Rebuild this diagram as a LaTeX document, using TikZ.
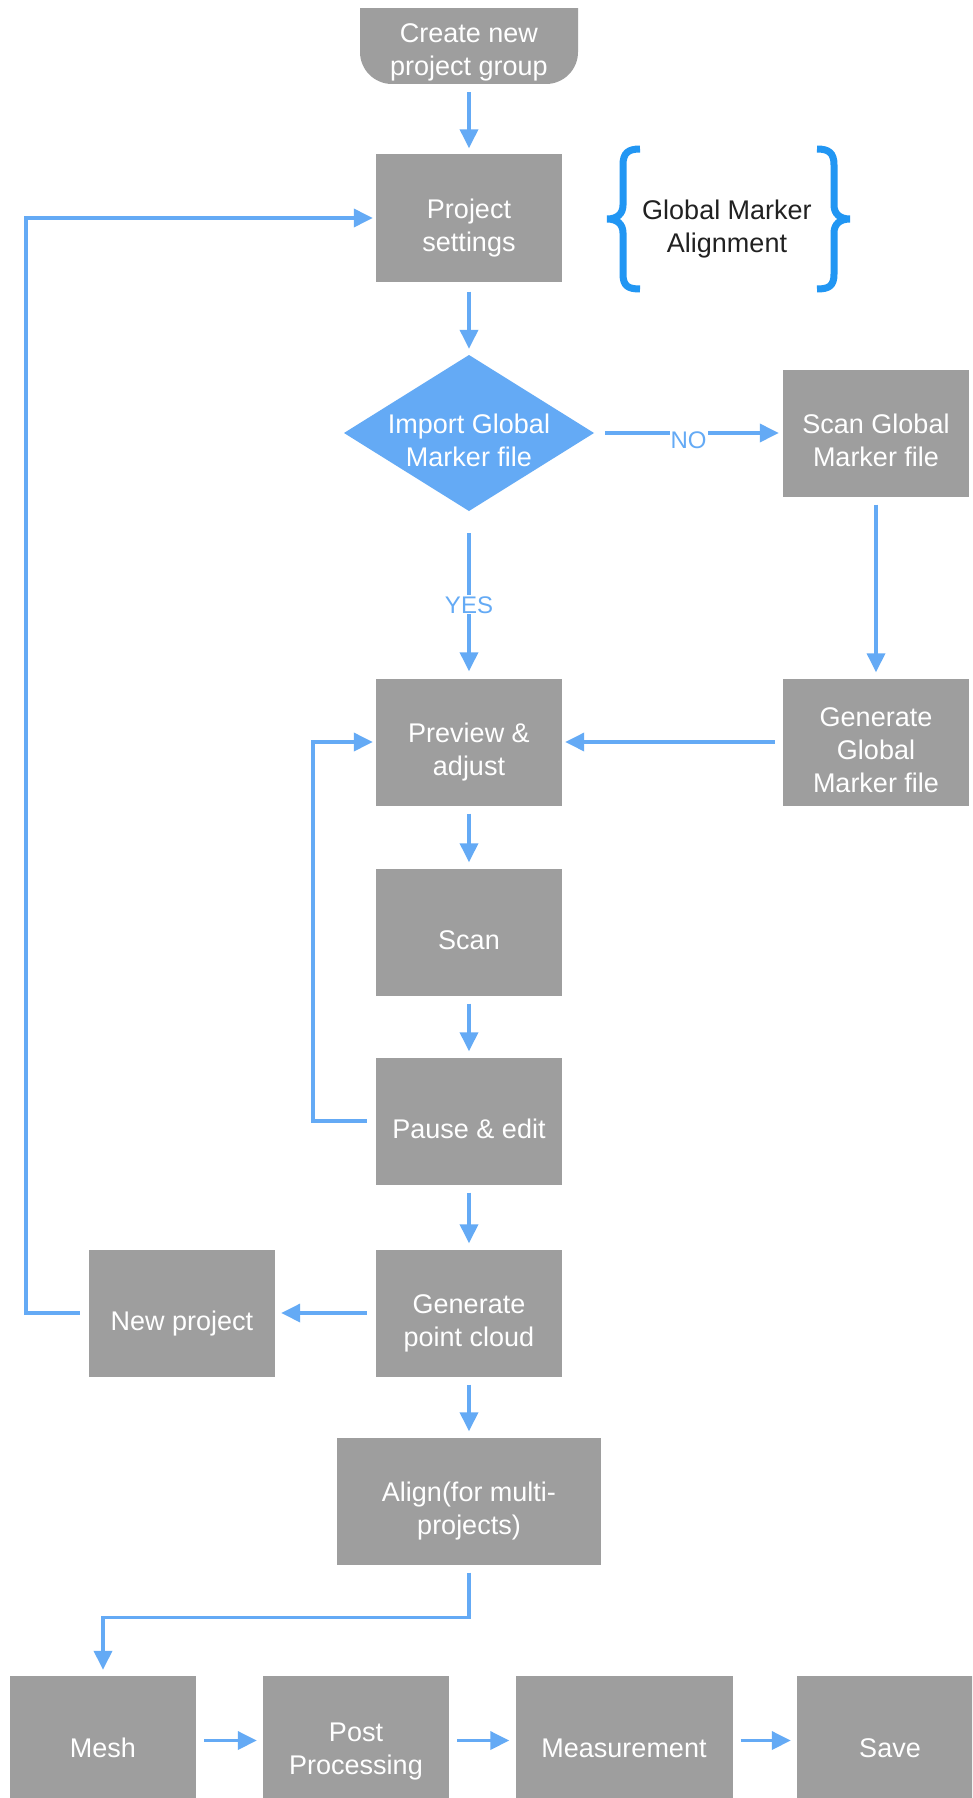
\documentclass[tikz,border=0pt]{standalone}
\usepackage{fontspec}
\setmainfont{Liberation Sans}
\usetikzlibrary{arrows.meta,calc}
\definecolor{boxgray}{HTML}{9E9E9E}
\definecolor{arr}{HTML}{64AAF5}
\definecolor{brc}{HTML}{2196F3}
\definecolor{darktext}{HTML}{212121}
\newcommand{\ts}{\rule{0pt}{40pt}}
\newcommand{\bs}{\rule[-6pt]{0pt}{6pt}}
\begin{document}
\begin{tikzpicture}[x=1pt,y=-1pt,
  boxtext/.style={text=white, align=center, font=\fontsize{27}{33}\selectfont, inner sep=0pt},
  box/.style={boxtext, fill=boxgray, minimum width=186pt, minimum height=127pt},
  conn/.style={draw=arr, line width=3.5pt, -{Triangle[length=19pt,width=18pt]}, shorten <=8pt, shorten >=6pt},
  lbl/.style={text=arr, fill=white, font=\fontsize{24}{28}\selectfont, inner sep=1pt},
  bracestyle/.style={draw=brc, line width=7pt}]
\useasboundingbox (0,0) rectangle (972,1798);
\fill[white] (0,0) rectangle (972,1798);
\clip (0,0) rectangle (972,1798);

% terminal
\begin{scope}
  \clip (340,9) rectangle (600,100);
  \fill[boxgray, rounded corners=32pt] (360,-30) rectangle (578,84);
\end{scope}
\node[boxtext, minimum width=218pt, minimum height=64pt] (start) at (469,52) {Create new\\project group};

\node[box] (settings) at (469,218) {\ts Project\\settings\bs};

% brace group
\node[text=darktext, align=center, font=\fontsize{27}{33}\selectfont] (gma) at (727,229.5) {Global Marker\\Alignment};
\draw[bracestyle] (640,149) .. controls (628,149) and (623,153) .. (623,165) -- (623,205) .. controls (623,214) and (617,219) .. (607,219) .. controls (617,219) and (623,224) .. (623,233) -- (623,274) .. controls (623,286) and (628,289) .. (640,289);
\draw[bracestyle] (817,149) .. controls (829,149) and (834,153) .. (834,165) -- (834,205) .. controls (834,214) and (840,219) .. (850,219) .. controls (840,219) and (834,224) .. (834,233) -- (834,274) .. controls (834,286) and (829,289) .. (817,289);

% diamond
\fill[arr] (469,355) -- (594,433) -- (469,511) -- (344,433) -- cycle;
\node[boxtext, minimum width=250pt, minimum height=156pt] (dia) at (469,433) {\ts Import Global\\Marker file\bs};

\node[box] (scangm) at (876,433) {\ts Scan Global\\Marker file\bs};
\node[box] (gengm) at (876,742) {\ts Generate\\Global\\Marker file\bs};
\node[box] (preview) at (469,742) {\ts Preview \&\\adjust\bs};
\node[box] (scan) at (469,932) {\ts Scan\bs};
\node[box] (pause) at (469,1121) {\ts Pause \& edit\bs};
\node[box] (genpc) at (469,1313) {\ts Generate\\point cloud\bs};
\node[box] (newproj) at (182,1313) {\ts New project\bs};
\node[box, minimum width=264pt] (align) at (469,1501) {\ts Align(for multi-\\projects)\bs};

\node[box, minimum height=129pt] (mesh) at (103,1740.5) {\ts Mesh\bs};
\node[box, minimum height=129pt] (post) at (356,1740.5) {\ts Post\\Processing\bs};
\node[box, minimum height=129pt, minimum width=217pt] (meas) at (624,1740.5) {\ts Measurement\bs};
\node[box, minimum height=129pt] (save) at (890,1740.5) {\ts Save\bs};

% connectors
\draw[conn] (start.south) -- (settings.north);
\draw[conn, shorten <=10pt] (settings.south) -- (dia.north);
\draw[conn, shorten <=11pt, shorten >=4pt] (dia.east) -- node[lbl, yshift=-7pt]{NO} (scangm.west);
\draw[conn, shorten <=22pt, shorten >=7pt] (dia.south) -- node[lbl, yshift=-10pt]{YES} (preview.north);
\draw[conn] (scangm.south) -- (gengm.north);
\draw[conn, shorten >=3pt] (gengm.west) -- (preview.east);
\draw[conn] (preview.south) -- (scan.north);
\draw[conn] (scan.south) -- (pause.north);
\draw[conn, shorten <=9pt, shorten >=3pt] (pause.west) -- ++(-63,0) |- (preview.west);
\draw[conn] (pause.south) -- (genpc.north);
\draw[conn, shorten <=9pt] (genpc.west) -- (newproj.east);
\draw[conn, shorten <=9pt, shorten >=3pt] (newproj.west) -- ++(-63,0) |- (settings.west);
\draw[conn] (genpc.south) -- (align.north);
\draw[conn] (align.south) -- ++(0,53) -| (mesh.north);
\draw[conn] (mesh.east) -- (post.west);
\draw[conn] (post.east) -- (meas.west);
\draw[conn] (meas.east) -- (save.west);
\end{tikzpicture}
\end{document}
